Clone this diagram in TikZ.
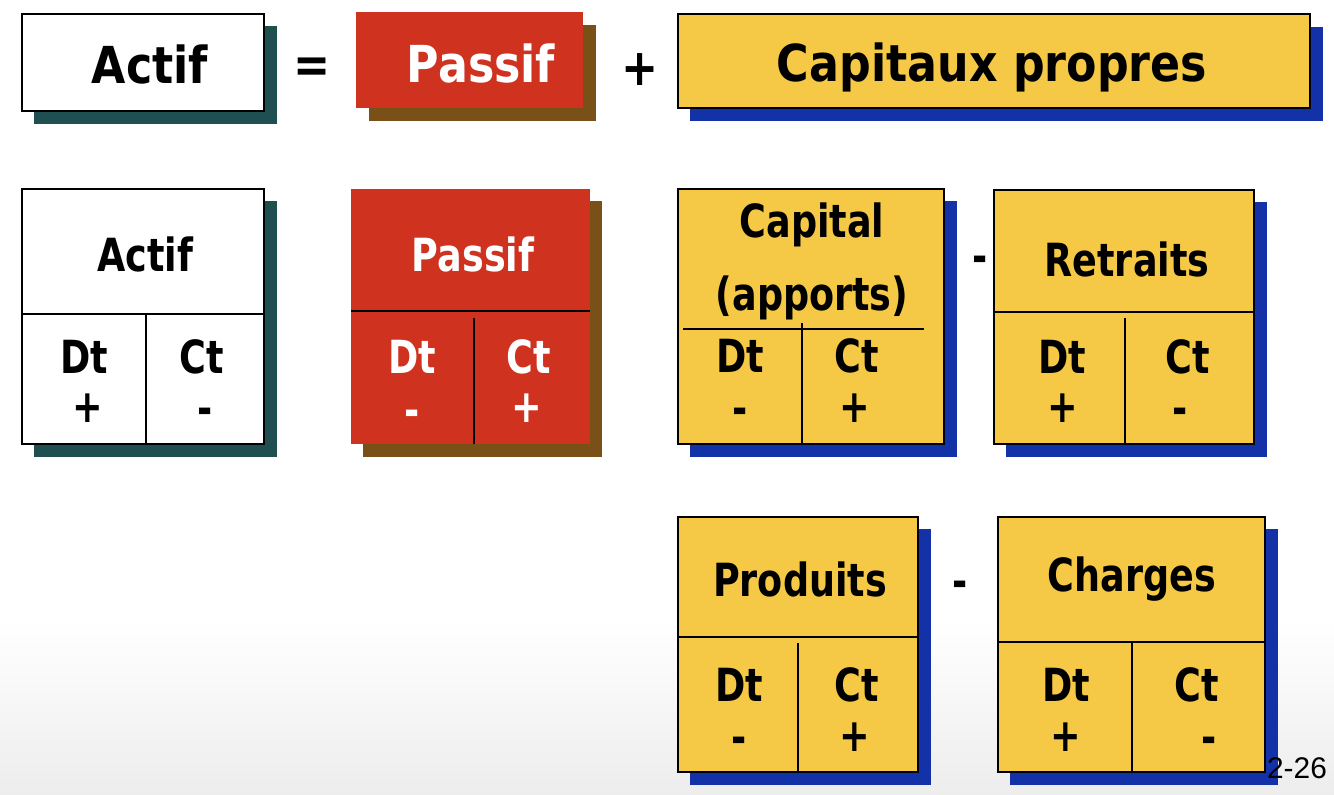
\documentclass[tikz,border=0pt]{standalone}
\usepackage{fontspec}
\setmainfont{DejaVu Sans}[FakeStretch=0.87]
\newfontfamily\midfont{DejaVu Sans}[FakeStretch=0.8]
\newfontfamily\pagefont{Liberation Sans}
\usetikzlibrary{positioning,calc}

\definecolor{passifred}{HTML}{D03220}
\definecolor{passifshade}{HTML}{7A5019}
\definecolor{capyellow}{HTML}{F5C945}
\definecolor{capshade}{HTML}{1432A8}
\definecolor{actifshade}{HTML}{1F4F50}

\begin{document}
\begin{tikzpicture}[x=0.02cm, y=-0.02cm,
    bigtxt/.style = {font=\bfseries\fontsize{29}{34}\selectfont},
    midtxt/.style = {font=\midfont\bfseries\fontsize{26}{30}\selectfont},
    boxline/.style = {draw=black, line width=0.9pt},
    rule/.style = {line width=1.6pt}]
% background
\fill[white] (0,0) rectangle (1334,794);
\shade[top color=white, bottom color=black!7] (0,620) rectangle (1334,794);
% equation
\fill[actifshade] (34,26) rectangle (277,124);
\draw[boxline, fill=white] (22,14) rectangle (264,111);
\node[bigtxt] (actif) at (150,65) {Actif};
\node[bigtxt] (egal) at (312,70) {=};
\fill[passifshade] (369,25) rectangle (596,121);
\fill[passifred] (356,12) rectangle (583,108);
\node[bigtxt, text=white] (passif) at (481,64) {Passif};
\node[bigtxt] (plus) at (640,70) {+};
\fill[capshade] (690,27) rectangle (1323,121);
\draw[boxline, fill=capyellow] (678,14) rectangle (1310,108);
\node[bigtxt] (cp) at (992,67) {Capitaux propres};
% T-account: Actif
\fill[actifshade] (34,201) rectangle (277,457);
\draw[boxline, fill=white] (22,189) rectangle (264,444);
\draw[rule] (22,314) -- (264,314);
\draw[rule] (146,314) -- (146,444);
\node[midtxt] (ta) at (145,254) {Actif};
\node[midtxt] (tad) at (84,357) {Dt};
\node[midtxt] (tadp) at (88,408) {+};
\node[midtxt] (tac) at (202,357) {Ct};
\node[midtxt] (tacm) at (205,416) {-};
% T-account: Passif
\fill[passifshade] (363,201) rectangle (602,457);
\fill[passifred] (351,189) rectangle (590,444);
\draw[rule] (351,311) -- (590,311);
\draw[rule] (474,318) -- (474,444);
\node[midtxt, text=white] (tp) at (473,254) {Passif};
\node[midtxt, text=white] (tpd) at (412,357) {Dt};
\node[midtxt, text=white] (tpdm) at (412,418) {-};
\node[midtxt, text=white] (tpc) at (529,357) {Ct};
\node[midtxt, text=white] (tpcp) at (527,408) {+};
% T-account: Capital
\fill[capshade] (690,201) rectangle (957,457);
\draw[boxline, fill=capyellow] (678,189) rectangle (944,444);
\draw[rule] (683,329) -- (924,329);
\draw[rule] (802,323) -- (802,444);
\node[midtxt] (tk) at (812,225) {Capital};
\node[midtxt] (tka) at (812,298) {(apports)};
\node[midtxt] (tkd) at (740,356) {Dt};
\node[midtxt] (tkdm) at (740,416) {-};
\node[midtxt] (tkc) at (857,356) {Ct};
\node[midtxt] (tkcp) at (855,408) {+};
\node[midtxt] (moins1) at (980,264) {-};
% T-account: Retraits
\fill[capshade] (1006,202) rectangle (1267,457);
\draw[boxline, fill=capyellow] (994,190) rectangle (1254,444);
\draw[rule] (994,312) -- (1254,312);
\draw[rule] (1125,318) -- (1125,444);
\node[midtxt] (tr) at (1127,259) {Retraits};
\node[midtxt] (trd) at (1062,357) {Dt};
\node[midtxt] (trdp) at (1063,408) {+};
\node[midtxt] (trc) at (1188,357) {Ct};
\node[midtxt] (trcm) at (1180,416) {-};
% T-account: Produits
\fill[capshade] (690,529) rectangle (931,785);
\draw[boxline, fill=capyellow] (678,517) rectangle (918,772);
\draw[rule] (678,637) -- (918,637);
\draw[rule] (798,643) -- (798,772);
\node[midtxt] (tpr) at (800,579) {Produits};
\node[midtxt] (tprd) at (739,685) {Dt};
\node[midtxt] (tprdm) at (739,745) {-};
\node[midtxt] (tprc) at (857,685) {Ct};
\node[midtxt] (tprcp) at (855,737) {+};
\node[midtxt] (moins2) at (960,589) {-};
% T-account: Charges
\fill[capshade] (1010,529) rectangle (1278,785);
\draw[boxline, fill=capyellow] (998,517) rectangle (1265,772);
\draw[rule] (998,642) -- (1265,642);
\draw[rule] (1132,643) -- (1132,772);
\node[midtxt] (tch) at (1132,579) {Charges};
\node[midtxt] (tchd) at (1066,685) {Dt};
\node[midtxt] (tchdp) at (1066,737) {+};
\node[midtxt] (tchc) at (1197,685) {Ct};
\node[midtxt] (tchcm) at (1209,745) {-};
% slide number
\node[font=\pagefont\fontsize{17}{20}\selectfont] (num) at (1297,768) {2-26};
\end{tikzpicture}
\end{document}
